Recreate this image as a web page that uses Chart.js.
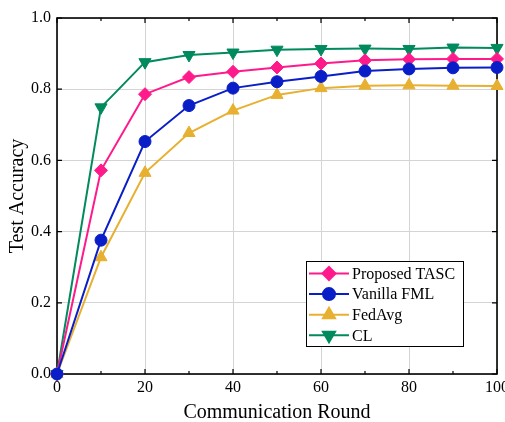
<!DOCTYPE html>
<html>
<head>
<meta charset="utf-8">
<script src="https://cdn.jsdelivr.net/npm/chart.js@4.4.0/dist/chart.umd.min.js"></script>
<style>
  html, body { margin: 0; padding: 0; background: #fff; }
  #wrap { width: 505px; height: 422px; position: relative; }
</style>
</head>
<body>
<div id="wrap"><canvas id="c"></canvas></div>
<script>
// ---- data ----
const rounds = [0, 10, 20, 30, 40, 50, 60, 70, 80, 90, 100];
const tasc   = [0, 0.572, 0.786, 0.834, 0.849, 0.861, 0.872, 0.881, 0.884, 0.885, 0.885];
const fml    = [0, 0.376, 0.653, 0.754, 0.803, 0.821, 0.836, 0.851, 0.857, 0.860, 0.861];
const fedavg = [0, 0.328, 0.565, 0.677, 0.740, 0.784, 0.803, 0.810, 0.811, 0.810, 0.809];
const cl     = [0, 0.749, 0.876, 0.896, 0.903, 0.911, 0.913, 0.914, 0.913, 0.917, 0.916];
const seriesNames = ['Proposed TASC', 'Vanilla FML', 'FedAvg', 'CL'];
const xTicks = [0, 20, 40, 60, 80, 100];
const yTicks = [0.0, 0.2, 0.4, 0.6, 0.8, 1.0];
const xLabel = 'Communication Round';
const yLabel = 'Test Accuracy';

const FONT = "'Liberation Serif', 'Times New Roman', serif";
const toPts = arr => arr.map((v, i) => ({ x: rounds[i], y: v }));

function ds(label, data, color, style, radius, rotation, order) {
  return {
    label, data: toPts(data),
    borderColor: color, backgroundColor: color,
    borderWidth: 2, pointStyle: style, pointRadius: radius, pointHoverRadius: radius,
    pointBorderWidth: 1, pointBorderColor: color, pointBackgroundColor: color,
    rotation: rotation, clip: false, order: order, tension: 0
  };
}

const framePlugin = {
  id: 'frame',
  beforeDatasetsDraw(chart) {
    const { ctx, chartArea: a, scales } = chart;
    ctx.save();
    ctx.strokeStyle = '#000';
    ctx.lineWidth = 1.2;
    for (let v = 0; v <= 100; v += 10) {
      const px = scales.x.getPixelForValue(v);
      const len = (v % 20 === 0) ? 5 : 3;
      ctx.beginPath();
      ctx.moveTo(px, a.bottom); ctx.lineTo(px, a.bottom - len);
      ctx.moveTo(px, a.top); ctx.lineTo(px, a.top + len);
      ctx.stroke();
    }
    yTicks.forEach(v => {
      const py = scales.y.getPixelForValue(v);
      ctx.beginPath();
      ctx.moveTo(a.left, py); ctx.lineTo(a.left + 5, py);
      ctx.moveTo(a.right, py); ctx.lineTo(a.right - 5, py);
      ctx.stroke();
    });
    ctx.lineWidth = 1.6;
    ctx.strokeRect(a.left, a.top, a.right - a.left, a.bottom - a.top);
    ctx.restore();
  },
  afterDraw(chart) {
    const { ctx, chartArea: a } = chart;
    ctx.save();
    ctx.fillStyle = '#000';
    ctx.font = '20px ' + FONT;
    ctx.textAlign = 'center';
    ctx.textBaseline = 'alphabetic';
    ctx.fillText(xLabel, (a.left + a.right) / 2, 418);
    ctx.translate(23, (a.top + a.bottom) / 2);
    ctx.rotate(-Math.PI / 2);
    ctx.fillText(yLabel, 0, 0);
    ctx.restore();

    // legend
    const bx = 306, by = 261, bw = 157, bh = 85;
    ctx.save();
    ctx.fillStyle = '#fff';
    ctx.fillRect(bx, by, bw, bh);
    ctx.strokeStyle = '#000';
    ctx.lineWidth = 1;
    ctx.strokeRect(bx + 0.5, by + 0.5, bw, bh);
    [0, 1, 2, 3].forEach((i, k) => {
      const d = chart.data.datasets[i];
      const y = 273.5 + k * 20.6;
      ctx.strokeStyle = d.borderColor;
      ctx.lineWidth = 2;
      ctx.beginPath();
      ctx.moveTo(309, y); ctx.lineTo(349, y);
      ctx.stroke();
      ctx.fillStyle = d.backgroundColor;
      Chart.helpers.drawPoint(ctx, {
        pointStyle: d.pointStyle, radius: d.pointRadius, rotation: d.rotation, borderWidth: 1
      }, 329, y);
      ctx.fillStyle = '#000';
      ctx.font = '16px ' + FONT;
      ctx.textAlign = 'left';
      ctx.textBaseline = 'middle';
      ctx.fillText(d.label, 352, y + 1);
    });
    ctx.restore();
  }
};

new Chart(document.getElementById('c'), {
  type: 'line',
  data: {
    datasets: [
      ds(seriesNames[0], tasc, '#FF1A8C', 'rectRot', 6.5, 0, 1),
      ds(seriesNames[1], fml, '#0A1EC8', 'circle', 6, 0, 0),
      ds(seriesNames[2], fedavg, '#E8B030', 'triangle', 7, 0, 2),
      ds(seriesNames[3], cl, '#008A5E', 'triangle', 7, 180, 3)
    ]
  },
  options: {
    responsive: true,
    maintainAspectRatio: false,
    animation: false,
    layout: { padding: { top: 18, right: 8, left: 0, bottom: 0 } },
    plugins: { legend: { display: false }, tooltip: { enabled: false } },
    scales: {
      x: {
        type: 'linear', min: 0, max: 100,
        afterFit: s => { s.height = 48; s.paddingLeft = 0; s.paddingRight = 0; },
        afterBuildTicks: s => { s.ticks = xTicks.map(v => ({ value: v })); },
        ticks: { color: '#000', font: { family: FONT, size: 16 }, padding: 4, maxRotation: 0,
                 callback: v => String(v) },
        grid: { color: '#d4d4d4', lineWidth: 1, drawTicks: false },
        border: { display: false }
      },
      y: {
        min: 0, max: 1,
        afterFit: s => { s.width = 57; s.paddingTop = 0; s.paddingBottom = 0; },
        afterBuildTicks: s => { s.ticks = yTicks.map(v => ({ value: v })); },
        ticks: { color: '#000', font: { family: FONT, size: 16 }, padding: 6,
                 callback: v => Number(v).toFixed(1) },
        grid: { color: '#d4d4d4', lineWidth: 1, drawTicks: false },
        border: { display: false }
      }
    }
  },
  plugins: [framePlugin]
});
</script>
</body>
</html>
